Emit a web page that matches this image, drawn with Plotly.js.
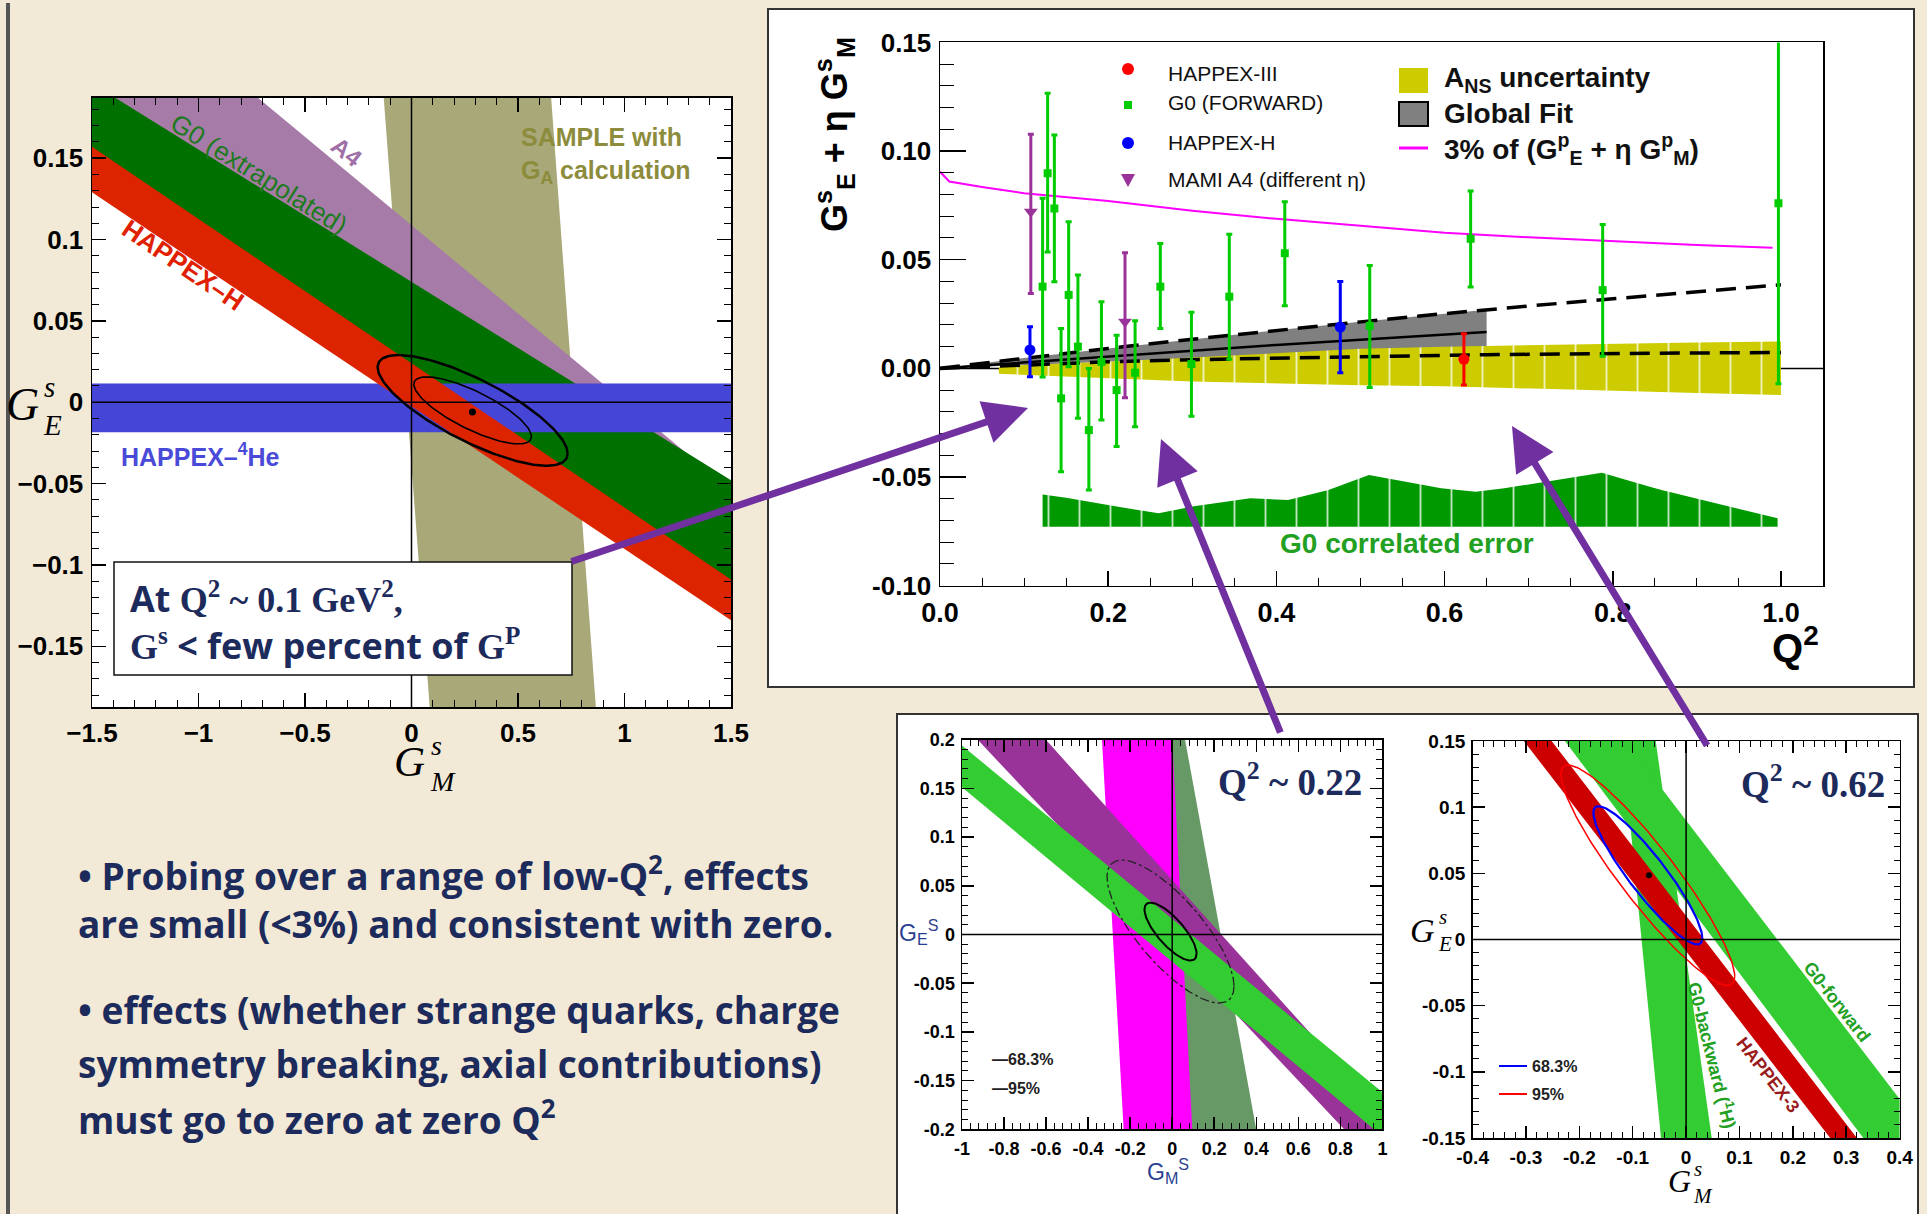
<!DOCTYPE html>
<html><head><meta charset="utf-8">
<script src="https://cdn.plot.ly/plotly-3.0.1.min.js"></script>
<style>html,body{margin:0;padding:0;background:#f2ead6;}#chart{width:1927px;height:1214px;}</style>
</head><body><div id="chart"></div>
<script>
// ---------------- Panel A : Q^2 ~ 0.1 (GM^s vs GE^s) ----------------
const gmA = [-1.5, 1.5];                 // GM^s where band edges are read
const a4UpperA = [0.2717, -0.054];
const a4LowerA = [0.166, -0.078];
const g0ExtUpperA = [0.196, -0.048];
const g0ExtLowerA = [0.143, -0.1215];
const happexHUpperA = [0.157, -0.109];
const happexHLowerA = [0.129, -0.134];
const he4BandA = [0.0115, -0.0185];
const sampleGE_A = [0.19, -0.19];
const sampleLeftA = [-0.132, 0.087];
const sampleRightA = [0.654, 0.867];
const fitCentreA = [0.287, -0.005];
const fit68A = [0.276, 0.0206];
const fit95A = [0.446, 0.034];
const fitTiltA = -0.78;
const bestA = [0.286, -0.006];
const gmTicksA = [-1.5, -1, -0.5, 0, 0.5, 1, 1.5];
const gmTickTextA = ['\u22121.5', '\u22121', '\u22120.5', '0', '0.5', '1', '1.5'];
const geTicksA = [-0.15, -0.1, -0.05, 0, 0.05, 0.1, 0.15];
const geTickTextA = ['\u22120.15', '\u22120.1', '\u22120.05', '0', '0.05', '0.1', '0.15'];

// ---------------- Panel B : GE^s + eta GM^s vs Q^2 ----------------
const g0Q  = [0.122, 0.128, 0.136, 0.144, 0.153, 0.164, 0.177, 0.192, 0.210, 0.232, 0.262, 0.299, 0.344, 0.410, 0.511, 0.631, 0.788, 0.997];
const g0V  = [0.0376, 0.0898, 0.0736, -0.0138, 0.0338, 0.010, -0.0284, 0.003, -0.010, -0.002, 0.0376, 0.002, 0.033, 0.053, 0.0196, 0.0596, 0.036, 0.076];
const g0Hi = [0.0783, 0.1266, 0.1074, 0.0184, 0.0675, 0.043, 0.0, 0.0307, 0.0153, 0.0219, 0.0575, 0.0258, 0.0617, 0.0767, 0.0473, 0.0816, 0.0662, 0.159];
const g0Lo = [-0.004, 0.0535, 0.0399, -0.0476, 0.0008, -0.023, -0.056, -0.0238, -0.036, -0.0269, 0.0184, -0.022, 0.0042, 0.0288, -0.0088, 0.0374, 0.0056, -0.0071];
const hapHQ = [0.107, 0.476];
const hapHV = [0.0085, 0.019];
const hapHHi = [0.0192, 0.040];
const hapHLo = [-0.0038, -0.002];
const hap3Q = [0.623];
const hap3V = [0.0042];
const hap3Hi = [0.0159];
const hap3Lo = [-0.0076];
const a4Q = [0.108, 0.220];
const a4V = [0.0721, 0.0215];
const a4Hi = [0.1077, 0.0532];
const a4Lo = [0.0345, -0.0135];
const pct3Q = [0, 0.011, 0.05, 0.1, 0.2, 0.3, 0.4, 0.5, 0.6, 0.7, 0.8, 0.9, 0.99];
const pct3V = [0.0905, 0.086, 0.0835, 0.0806, 0.077, 0.0725, 0.0688, 0.0655, 0.0624, 0.0603, 0.0584, 0.0568, 0.0555];
const fitQ = [0, 0.1, 0.2, 0.3, 0.4, 0.5, 0.6, 0.65, 0.7, 0.8, 0.9, 1.0];
const fitUpper = [0, 0.0048, 0.0092, 0.0134, 0.0175, 0.0214, 0.0252, 0.027, 0.0287, 0.032, 0.0353, 0.0385];
const fitLower = [0, 0.0015, 0.003, 0.004, 0.0048, 0.0055, 0.006, 0.0063, 0.0065, 0.0068, 0.0071, 0.0073];
const fitCentral = [0, 0.0027, 0.0055, 0.0082, 0.0108, 0.0132, 0.0156, 0.0167];
const ansQ = [0.07, 0.1, 0.2, 0.3, 0.4, 0.5, 0.6, 0.7, 0.8, 0.9, 1.0];
const ansUpper = [0.0005, 0.0015, 0.003, 0.005, 0.007, 0.009, 0.010, 0.0107, 0.0113, 0.0119, 0.0124];
const ansLower = [-0.0025, -0.003, -0.0045, -0.006, -0.007, -0.0078, -0.0082, -0.009, -0.0102, -0.0113, -0.0123];
const corrQ = [0.122, 0.15, 0.18, 0.21, 0.26, 0.30, 0.369, 0.414, 0.462, 0.51, 0.596, 0.637, 0.671, 0.787, 0.844, 0.858, 0.996];
const corrTop = [-0.058, -0.0595, -0.0616, -0.0636, -0.0667, -0.0636, -0.0598, -0.0606, -0.056, -0.0491, -0.0552, -0.0568, -0.0552, -0.048, -0.0545, -0.056, -0.069];
const corrBase = -0.0729;
const qTicks = [0, 0.2, 0.4, 0.6, 0.8, 1.0];
const qTickText = ['0.0', '0.2', '0.4', '0.6', '0.8', '1.0'];
const sTicks = [-0.10, -0.05, 0, 0.05, 0.10, 0.15];
const sTickText = ['-0.10', '-0.05', '0.00', '0.05', '0.10', '0.15'];

// ---------------- Panel C : Q^2 ~ 0.22 ----------------
const geC = [0.2, -0.2];
const greyGreenLeftC = [-0.1, 0.0];
const greyGreenRightC = [0.061, 0.40];
const magentaLeftC = [-0.334, -0.231];
const magentaRightC = [0.0, 0.0955];
const purpleLeftC = [-0.926, 0.819];
const purpleRightC = [-0.602, 1.07];
const gmC = [-1, 1];
const greenUpperC = [0.194, -0.162];
const greenLowerC = [0.151, -0.207];
const fitCentreC = [-0.008, 0.003];
const fit68C = [0.124, 0.0297];
const fit95C = [0.302, 0.0733];
const fitTiltC = -0.765;
const gmTicksC = [-1, -0.8, -0.6, -0.4, -0.2, 0, 0.2, 0.4, 0.6, 0.8, 1];
const gmTickTextC = ['-1', '-0.8', '-0.6', '-0.4', '-0.2', '0', '0.2', '0.4', '0.6', '0.8', '1'];
const geTicksC = [-0.2, -0.15, -0.1, -0.05, 0, 0.05, 0.1, 0.15, 0.2];
const geTickTextC = ['-0.2', '-0.15', '-0.1', '-0.05', '0', '0.05', '0.1', '0.15', '0.2'];

// ---------------- Panel D : Q^2 ~ 0.62 ----------------
const geD = [0.15, -0.15];
const g0BwdLeftD = [-0.12, -0.047];
const g0BwdRightD = [-0.057, 0.048];
const g0FwdLeftD = [-0.227, 0.332];
const g0FwdRightD = [-0.114, 0.456];
const hap3LeftD = [-0.304, 0.270];
const hap3RightD = [-0.252, 0.320];
const fitCentreD = [-0.0717, 0.0485];
const fit68D = [0.102, 0.0522];
const fit95D = [0.1628, 0.0833];
const fitTilt68D = -0.906;
const fitTilt95D = -0.918;
const bestD = [-0.0695, 0.0485];
const gmTicksD = [-0.4, -0.3, -0.2, -0.1, 0, 0.1, 0.2, 0.3, 0.4];
const gmTickTextD = ['-0.4', '-0.3', '-0.2', '-0.1', '0', '0.1', '0.2', '0.3', '0.4'];
const geTicksD = [-0.15, -0.1, -0.05, 0, 0.05, 0.1, 0.15];
const geTickTextD = ['-0.15', '-0.1', '-0.05', '0', '0.05', '0.1', '0.15'];

// ---------------- helpers ----------------
const W = 1927, H = 1214;
const px = v => v / W;
const py = v => 1 - v / H;
const SANS = 'Liberation Sans, Arial, Helvetica, sans-serif';
const SERIF = 'Liberation Serif, Times New Roman, serif';
const BODY = 'Open Sans, Lato, sans-serif';
const NAVY = '#1c2a5c';

function ellipse(c, ab, tilt) {
  const phi = Math.acos(tilt), x = [], y = [];
  for (let i = 0; i <= 180; i++) {
    const t = 2 * Math.PI * i / 180;
    x.push(c[0] + ab[0] * Math.cos(t));
    y.push(c[1] + ab[1] * Math.cos(t + phi));
  }
  return {x, y};
}
function poly(xs, ys, color, xa, ya, pattern) {
  const t = {type: 'scatter', mode: 'lines', x: xs, y: ys, fill: 'toself', fillcolor: color,
          line: {width: 0, color: color}, xaxis: xa, yaxis: ya, hoverinfo: 'skip'};
  if (pattern) t.fillpattern = {shape: '|', size: 31, solidity: 0.06, fgcolor: '#ffffff', bgcolor: color, fgopacity: 0.75};
  return t;
}
function line(xs, ys, lineStyle, xa, ya) {
  return {type: 'scatter', mode: 'lines', x: xs, y: ys, line: lineStyle, xaxis: xa, yaxis: ya, hoverinfo: 'skip'};
}
function errPts(q, v, hi, lo, marker, color, xa, ya) {
  return {type: 'scatter', mode: 'markers', x: q, y: v, marker: marker, xaxis: xa, yaxis: ya,
    error_y: {type: 'data', symmetric: false, array: hi.map((h, i) => h - v[i]), arrayminus: lo.map((l, i) => v[i] - l),
              color: color, thickness: 3, width: 3}, cliponaxis: true, hoverinfo: 'skip'};
}

const traces = [];
// Panel A bands
traces.push(poly([sampleLeftA[0], sampleRightA[0], sampleRightA[1], sampleLeftA[1]], [sampleGE_A[0], sampleGE_A[0], sampleGE_A[1], sampleGE_A[1]], '#a8a878', 'x', 'y'));
traces.push(poly([gmA[0], gmA[1], gmA[1], gmA[0]], [a4UpperA[0], a4UpperA[1], a4LowerA[1], a4LowerA[0]], '#a77ba8', 'x', 'y'));
traces.push(poly([gmA[0], gmA[1], gmA[1], gmA[0]], [g0ExtUpperA[0], g0ExtUpperA[1], g0ExtLowerA[1], g0ExtLowerA[0]], '#007000', 'x', 'y'));
traces.push(poly([gmA[0], gmA[1], gmA[1], gmA[0]], [he4BandA[0], he4BandA[0], he4BandA[1], he4BandA[1]], '#4646d6', 'x', 'y'));
traces.push(poly([gmA[0], gmA[1], gmA[1], gmA[0]], [happexHUpperA[0], happexHUpperA[1], happexHLowerA[1], happexHLowerA[0]], '#dc2400', 'x', 'y'));
let e = ellipse(fitCentreA, fit95A, fitTiltA);
traces.push(line(e.x, e.y, {color: '#000', width: 2.5}, 'x', 'y'));
e = ellipse(fitCentreA, fit68A, fitTiltA);
traces.push(line(e.x, e.y, {color: '#000', width: 1.6}, 'x', 'y'));
traces.push({type: 'scatter', mode: 'markers', x: [bestA[0]], y: [bestA[1]], marker: {color: '#000', size: 7}, xaxis: 'x', yaxis: 'y', hoverinfo: 'skip'});

// Panel B
traces.push(poly(fitQ.slice(0, 8).concat(fitQ.slice(0, 8).reverse()), fitUpper.slice(0, 8).concat(fitLower.slice(0, 8).reverse()), '#808080', 'x2', 'y2'));
traces.push(poly(ansQ.concat(ansQ.slice().reverse()), ansUpper.concat(ansLower.slice().reverse()), '#cccc00', 'x2', 'y2', true));
traces.push(poly([corrQ[0]].concat(corrQ, [corrQ[corrQ.length - 1]]), [corrBase].concat(corrTop, [corrBase]), '#009900', 'x2', 'y2', true));
traces.push(line(fitQ, fitUpper, {color: '#000', width: 3.5, dash: '20px,10px'}, 'x2', 'y2'));
traces.push(line(fitQ, fitLower, {color: '#000', width: 3.5, dash: '20px,10px'}, 'x2', 'y2'));
traces.push(line(fitQ.slice(0, 8), fitCentral, {color: '#000', width: 2.5}, 'x2', 'y2'));
traces.push(line(pct3Q, pct3V, {color: '#ff00ff', width: 2}, 'x2', 'y2'));
traces.push(errPts(a4Q, a4V, a4Hi, a4Lo, {symbol: 'triangle-down', size: 12, color: '#993399'}, '#993399', 'x2', 'y2'));
traces.push(errPts(g0Q, g0V, g0Hi, g0Lo, {symbol: 'square', size: 8, color: '#00cc00'}, '#00cc00', 'x2', 'y2'));
traces.push(errPts(hapHQ, hapHV, hapHHi, hapHLo, {symbol: 'circle', size: 11, color: '#0000ff'}, '#0000ff', 'x2', 'y2'));
traces.push(errPts(hap3Q, hap3V, hap3Hi, hap3Lo, {symbol: 'circle', size: 11, color: '#ff0000'}, '#ff0000', 'x2', 'y2'));

// Panel C
traces.push(poly([greyGreenLeftC[0], greyGreenRightC[0], greyGreenRightC[1], greyGreenLeftC[1]], [geC[0], geC[0], geC[1], geC[1]], '#669966', 'x3', 'y3'));
traces.push(poly([magentaLeftC[0], magentaRightC[0], magentaRightC[1], magentaLeftC[1]], [geC[0], geC[0], geC[1], geC[1]], '#ff00ff', 'x3', 'y3'));
traces.push(poly([purpleLeftC[0], purpleRightC[0], purpleRightC[1], purpleLeftC[1]], [geC[0], geC[0], geC[1], geC[1]], '#993399', 'x3', 'y3'));
traces.push(poly([gmC[0], gmC[1], gmC[1], gmC[0]], [greenUpperC[0], greenUpperC[1], greenLowerC[1], greenLowerC[0]], '#33cc33', 'x3', 'y3'));
e = ellipse(fitCentreC, fit95C, fitTiltC);
traces.push(line(e.x, e.y, {color: '#222', width: 1.3, dash: 'dashdot'}, 'x3', 'y3'));
e = ellipse(fitCentreC, fit68C, fitTiltC);
traces.push(line(e.x, e.y, {color: '#000', width: 2}, 'x3', 'y3'));

// Panel D
traces.push(poly([g0BwdLeftD[0], g0BwdRightD[0], g0BwdRightD[1], g0BwdLeftD[1]], [geD[0], geD[0], geD[1], geD[1]], '#33cc33', 'x4', 'y4'));
traces.push(poly([g0FwdLeftD[0], g0FwdRightD[0], g0FwdRightD[1], g0FwdLeftD[1]], [geD[0], geD[0], geD[1], geD[1]], '#33cc33', 'x4', 'y4'));
traces.push(poly([hap3LeftD[0], hap3RightD[0], hap3RightD[1], hap3LeftD[1]], [geD[0], geD[0], geD[1], geD[1]], '#cc0000', 'x4', 'y4'));
e = ellipse(fitCentreD, fit95D, fitTilt95D);
traces.push(line(e.x, e.y, {color: '#ff0000', width: 1.5}, 'x4', 'y4'));
e = ellipse(fitCentreD, fit68D, fitTilt68D);
traces.push(line(e.x, e.y, {color: '#0000ff', width: 2.2}, 'x4', 'y4'));
traces.push({type: 'scatter', mode: 'markers', x: [bestD[0]], y: [bestD[1]], marker: {color: '#000', size: 6}, xaxis: 'x4', yaxis: 'y4', hoverinfo: 'skip'});

// ---------------- axes ----------------
function axis(domain, range, anchor, tv, tt, len, minorD, minorLen, fontSize, mirror) {
  return {domain: domain, range: range, anchor: anchor, tickmode: 'array', tickvals: tv, ticktext: tt,
    ticks: 'inside', ticklen: len, tickwidth: 1.5, tickcolor: '#000',
    minor: {ticks: 'inside', ticklen: minorLen, tickwidth: 1, tickcolor: '#000', dtick: minorD, tick0: 0, showgrid: false},
    showline: true, linecolor: '#000', linewidth: 1.5, mirror: mirror, showgrid: false, zeroline: false,
    tickfont: {family: SANS, size: fontSize, color: '#000', weight: 'bold'}, fixedrange: true, ticklabelstandoff: 2};
}

const layout = {
  width: W, height: H, margin: {l: 0, r: 0, t: 0, b: 0},
  paper_bgcolor: '#f2ead6', plot_bgcolor: '#ffffff', showlegend: false, hovermode: false,
  xaxis: axis([px(92), px(731)], [-1.5, 1.5], 'y', gmTicksA, gmTickTextA, 14, 0.1, 7, 26, 'allticks'),
  yaxis: axis([py(707), py(97.5)], [-0.1873, 0.1873], 'x', geTicksA, geTickTextA, 14, 0.01, 7, 26, 'allticks'),
  xaxis2: axis([px(940), px(1823)], [0, 1.05], 'y2', qTicks, qTickText, 15, 0.05, 8, 27, true),
  yaxis2: axis([py(585.7), py(42.4)], [-0.10, 0.15], 'x2', sTicks, sTickText, 26, 0.01, 14, 26, true),
  xaxis3: axis([px(962), px(1382.4)], [-1, 1], 'y3', gmTicksC, gmTickTextC, 12, 0.04, 6, 18, 'allticks'),
  yaxis3: axis([py(1129.4), py(739.6)], [-0.2, 0.2], 'x3', geTicksC, geTickTextC, 12, 0.01, 6, 18, 'allticks'),
  xaxis4: axis([px(1472.6), px(1899.6)], [-0.4, 0.4], 'y4', gmTicksD, gmTickTextD, 12, 0.02, 6, 19, 'allticks'),
  yaxis4: axis([py(1138), py(741)], [-0.15, 0.15], 'x4', geTicksD, geTickTextD, 12, 0.01, 6, 19, 'allticks'),
  shapes: [], annotations: []
};

const S = layout.shapes, A = layout.annotations;
// frames
S.push({type: 'line', xref: 'paper', yref: 'paper', x0: px(8), x1: px(8), y0: py(3), y1: py(1214), line: {color: '#555', width: 4}, layer: 'below'});
S.push({type: 'rect', xref: 'paper', yref: 'paper', x0: px(768), x1: px(1914), y0: py(9), y1: py(687), fillcolor: '#fff', line: {color: '#333', width: 2}, layer: 'below'});
S.push({type: 'rect', xref: 'paper', yref: 'paper', x0: px(897), x1: px(1918), y0: py(714), y1: py(1220), fillcolor: '#fff', line: {color: '#333', width: 2}, layer: 'below'});
S.push({type: 'line', xref: 'x2', yref: 'y2', x0: 0, x1: 1.05, y0: 0, y1: 0, line: {color: '#000', width: 1.5}, layer: 'below'});
// zero lines on the GE-GM panels
[['x', 'y', [-1.5, 1.5], [-0.1873, 0.1873]], ['x3', 'y3', [-1, 1], [-0.2, 0.2]], ['x4', 'y4', [-0.4, 0.4], [-0.15, 0.15]]].forEach(p => {
  S.push({type: 'line', xref: p[0], yref: p[1], x0: 0, x1: 0, y0: p[3][0], y1: p[3][1], line: {color: '#000', width: 1.5}, layer: 'above'});
  S.push({type: 'line', xref: p[0], yref: p[1], x0: p[2][0], x1: p[2][1], y0: 0, y1: 0, line: {color: '#000', width: 1.5}, layer: 'above'});
});
// panel A text box
S.push({type: 'rect', xref: 'paper', yref: 'paper', x0: px(114), x1: px(572), y0: py(562), y1: py(675), fillcolor: '#fff', line: {color: '#111', width: 1.5}, layer: 'above'});
// panel B legend symbols
S.push({type: 'circle', xref: 'paper', yref: 'paper', x0: px(1122), x1: px(1134), y0: py(63), y1: py(75), fillcolor: '#ff0000', line: {width: 0}, layer: 'above'});
S.push({type: 'rect', xref: 'paper', yref: 'paper', x0: px(1124), x1: px(1132), y0: py(101), y1: py(109), fillcolor: '#00cc00', line: {width: 0}, layer: 'above'});
S.push({type: 'circle', xref: 'paper', yref: 'paper', x0: px(1122), x1: px(1134), y0: py(137), y1: py(149), fillcolor: '#0000ff', line: {width: 0}, layer: 'above'});
S.push({type: 'path', xref: 'paper', yref: 'paper', path: `M ${px(1121)},${py(174)} L ${px(1135)},${py(174)} L ${px(1128)},${py(187)} Z`, fillcolor: '#993399', line: {width: 0}, layer: 'above'});
S.push({type: 'rect', xref: 'paper', yref: 'paper', x0: px(1399), x1: px(1428), y0: py(68), y1: py(93), fillcolor: '#cccc00', line: {width: 0}, layer: 'above'});
S.push({type: 'rect', xref: 'paper', yref: 'paper', x0: px(1399), x1: px(1428), y0: py(102), y1: py(126), fillcolor: '#808080', line: {color: '#000', width: 2}, layer: 'above'});
S.push({type: 'line', xref: 'paper', yref: 'paper', x0: px(1399), x1: px(1428), y0: py(148), y1: py(148), line: {color: '#ff00ff', width: 3}, layer: 'above'});
// panel D legend lines
S.push({type: 'line', xref: 'paper', yref: 'paper', x0: px(1499), x1: px(1527), y0: py(1066), y1: py(1066), line: {color: '#0000ff', width: 2}, layer: 'above'});
S.push({type: 'line', xref: 'paper', yref: 'paper', x0: px(1499), x1: px(1527), y0: py(1094), y1: py(1094), line: {color: '#ff0000', width: 2}, layer: 'above'});

function T(x, y, text, font, o) {
  return Object.assign({xref: 'paper', yref: 'paper', x: px(x), y: py(y), text: text, showarrow: false,
    xanchor: 'center', yanchor: 'middle', font: font}, o || {});
}
const F = (family, size, color, weight, style) => ({family: family, size: size, color: color, weight: weight || 'normal', style: style || 'normal'});

// Panel A labels
A.push(T(259, 174, 'G0 (extrapolated)', F(SANS, 26, '#1e7a1e'), {textangle: 32}));
A.push(T(346, 152, 'A4', F(SANS, 24, '#9f6fa8', 'bold'), {textangle: 38}));
A.push(T(183, 265, 'HAPPEX\u2013H', F(SANS, 26, '#e02000', 'bold'), {textangle: 34}));
A.push(T(519, 137, 'SAMPLE with', F(SANS, 25, '#8c8c3c', 'bold'), {xanchor: 'left'}));
A.push(T(519, 172, 'G<sub>A</sub> calculation', F(SANS, 25, '#8c8c3c', 'bold'), {xanchor: 'left'}));
A.push(T(119, 455, 'HAPPEX\u2013<sup>4</sup>He', F(SANS, 25, '#4a4ad8', 'bold'), {xanchor: 'left'}));
// stacked-index axis titles: letter, then superscript over subscript
A.push(T(22, 405, 'G', F(SERIF, 46, '#000', 'normal', 'italic')));
A.push(T(52, 406, 's<br>E', F(SERIF, 29, '#000', 'normal', 'italic'), {align: 'left'}));
A.push(T(409, 761, 'G', F(SERIF, 43, '#000', 'normal', 'italic')));
A.push(T(443, 763, 's<br>M', F(SERIF, 28, '#000', 'normal', 'italic'), {align: 'left'}));
A.push(T(128, 622, 'At <span style="font-family:Liberation Serif">Q<sup>2</sup> ~ 0.1 GeV<sup>2</sup>,</span><br><span style="font-family:Liberation Serif">G<sup>s</sup></span> &lt; few percent of <span style="font-family:Liberation Serif">G<sup>P</sup></span>',
  F(BODY, 36, NAVY, 'bold'), {xanchor: 'left', align: 'left'}));

// Panel B labels
A.push(T(835, 135, 'G<sup>s</sup><sub>E</sub> + \u03b7 G<sup>s</sup><sub>M</sub>', F(SANS, 36, '#000', 'bold'), {textangle: -90}));
A.push(T(1821, 645, 'Q<sup>2</sup>', F(SANS, 40, '#000', 'bold'), {xanchor: 'right'}));
A.push(T(1166, 74, 'HAPPEX-III', F(SANS, 21, '#111'), {xanchor: 'left'}));
A.push(T(1166, 102, 'G0 (FORWARD)', F(SANS, 21, '#111'), {xanchor: 'left'}));
A.push(T(1166, 142, 'HAPPEX-H', F(SANS, 21, '#111'), {xanchor: 'left'}));
A.push(T(1166, 179, 'MAMI A4 (different \u03b7)', F(SANS, 21, '#111'), {xanchor: 'left'}));
A.push(T(1442, 80, 'A<sub>NS</sub> uncertainty', F(SANS, 28, '#111', 'bold'), {xanchor: 'left'}));
A.push(T(1442, 114, 'Global Fit', F(SANS, 28, '#111', 'bold'), {xanchor: 'left'}));
A.push(T(1442, 149, '3% of (G<sup>p</sup><sub>E</sub> + \u03b7 G<sup>p</sup><sub>M</sub>)', F(SANS, 28, '#111', 'bold'), {xanchor: 'left'}));
A.push(T(1407, 543, 'G0 correlated error', F(SANS, 28, '#22a022', 'bold')));

// Panel C labels
A.push(T(1290, 779, 'Q<sup>2</sup> ~ 0.22', F(SERIF, 37, NAVY, 'bold')));
A.push(T(990, 1059, '\u201468.3%', F(SANS, 16, '#222', 'bold'), {xanchor: 'left'}));
A.push(T(990, 1088, '\u201495%', F(SANS, 16, '#222', 'bold'), {xanchor: 'left'}));
A.push(T(918, 932, 'G<sub>E</sub><sup>S</sup>', F(SANS, 23, '#2a3f8f')));
A.push(T(1168, 1171, 'G<sub>M</sub><sup>S</sup>', F(SANS, 23, '#2a3f8f')));

// Panel D labels
A.push(T(1813, 781, 'Q<sup>2</sup> ~ 0.62', F(SERIF, 37, NAVY, 'bold')));
A.push(T(1530, 1066, '68.3%', F(SANS, 16, '#222', 'bold'), {xanchor: 'left'}));
A.push(T(1530, 1094, '95%', F(SANS, 16, '#222', 'bold'), {xanchor: 'left'}));
A.push(T(1837, 1002, 'G0-forward', F(SANS, 18, '#22a022', 'bold'), {textangle: 52}));
A.push(T(1768, 1075, 'HAPPEX-3', F(SANS, 18, '#991a1a', 'bold'), {textangle: 52}));
A.push(T(1713, 1055, 'G0-backward (<sup>1</sup>H)', F(SANS, 18, '#22a022', 'bold'), {textangle: 76}));
A.push(T(1422, 930, 'G', F(SERIF, 34, '#000', 'normal', 'italic')));
A.push(T(1445, 930, 's<br>E', F(SERIF, 21, '#000', 'normal', 'italic'), {align: 'left'}));
A.push(T(1679, 1181, 'G', F(SERIF, 32, '#000', 'normal', 'italic')));
A.push(T(1703, 1182, 's<br>M', F(SERIF, 21, '#000', 'normal', 'italic'), {align: 'left'}));

// Bullet text
const bullets = [
  [873, '\u2022 Probing over a range of low-Q<sup>2</sup>, effects'],
  [923, 'are small (&lt;3%) and consistent with zero.'],
  [1009, '\u2022 effects (whether strange quarks, charge'],
  [1063, 'symmetry breaking, axial contributions)'],
  [1117, 'must go to zero at zero Q<sup>2</sup>']
];
bullets.forEach(b => A.push(T(76, b[0], b[1], F(BODY, 37, NAVY, 'bold'), {xanchor: 'left'})));

// arrows
function arrow(tail, tip) {
  return {xref: 'paper', yref: 'paper', x: px(tip[0]), y: py(tip[1]), ax: tail[0] - tip[0], ay: tail[1] - tip[1],
    axref: 'pixel', ayref: 'pixel', text: '', showarrow: true, arrowhead: 2, arrowsize: 1.25, arrowwidth: 7,
    arrowcolor: '#7030a0', standoff: 0, startstandoff: 0};
}
A.push(arrow([570, 562], [1028, 408]));
A.push(arrow([1281, 734], [1161, 439]));
A.push(arrow([1708, 747], [1512, 426]));

Plotly.newPlot('chart', traces, layout, {staticPlot: true, displayModeBar: false});
</script></body></html>
